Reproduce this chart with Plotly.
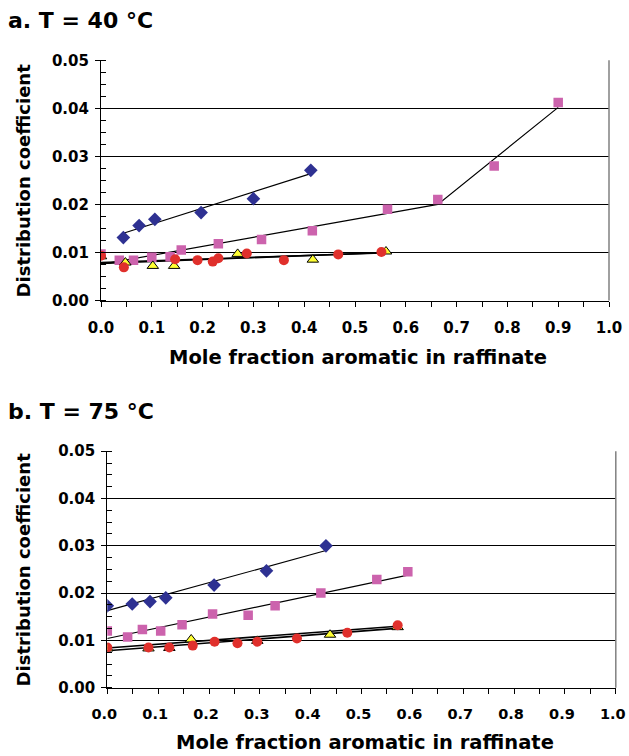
import plotly.graph_objects as go

W, H = 629, 756

# ---------------- data: panel a (T = 40 °C) ----------------
blue_a_x = [0.044, 0.075, 0.106, 0.197, 0.300, 0.413]
blue_a_y = [0.0131, 0.0156, 0.0169, 0.0183, 0.0212, 0.0271]
blue_a_fit_x = [0.044, 0.413]
blue_a_fit_y = [0.0140, 0.0264]

pink_a_x = [0.0, 0.036, 0.064, 0.100, 0.136, 0.158, 0.231, 0.316, 0.416, 0.564, 0.663, 0.774, 0.900]
pink_a_y = [0.0097, 0.0084, 0.0084, 0.0090, 0.0091, 0.0105, 0.0118, 0.0127, 0.0145, 0.0190, 0.0210, 0.0280, 0.0412]
pink_a_fit_x = [0.0, 0.663, 0.900]
pink_a_fit_y = [0.0075, 0.0200, 0.0402]

red_a_x = [0.0, 0.045, 0.146, 0.190, 0.220, 0.231, 0.287, 0.360, 0.467, 0.552]
red_a_y = [0.0093, 0.0069, 0.0086, 0.0084, 0.0081, 0.0088, 0.0098, 0.0084, 0.0096, 0.0101]
red_a_fit_x = [0.0, 0.552]
red_a_fit_y = [0.0079, 0.0099]

yellow_a_x = [0.0, 0.048, 0.102, 0.144, 0.269, 0.417, 0.561]
yellow_a_y = [0.0092, 0.0079, 0.0072, 0.0072, 0.0097, 0.0085, 0.0102]
yellow_a_fit_x = [0.0, 0.561]
yellow_a_fit_y = [0.0077, 0.0100]

# ---------------- data: panel b (T = 75 °C) ----------------
blue_b_x = [0.0, 0.049, 0.084, 0.115, 0.210, 0.313, 0.430]
blue_b_y = [0.0173, 0.0177, 0.0182, 0.0190, 0.0217, 0.0247, 0.0300]
blue_b_fit_x = [0.0, 0.430]
blue_b_fit_y = [0.0163, 0.0290]

pink_b_x = [0.0, 0.040, 0.069, 0.105, 0.147, 0.207, 0.277, 0.330, 0.420, 0.530, 0.591]
pink_b_y = [0.0120, 0.0107, 0.0123, 0.0120, 0.0133, 0.0156, 0.0153, 0.0173, 0.0200, 0.0229, 0.0245]
pink_b_fit_x = [0.0, 0.591]
pink_b_fit_y = [0.0104, 0.0238]

red_b_x = [0.0, 0.081, 0.122, 0.168, 0.211, 0.256, 0.295, 0.373, 0.472, 0.571]
red_b_y = [0.0085, 0.0085, 0.0085, 0.0089, 0.0097, 0.0094, 0.0097, 0.0104, 0.0116, 0.0132]
red_b_fit_x = [0.0, 0.571]
red_b_fit_y = [0.0084, 0.0130]

yellow_b_x = [0.0, 0.081, 0.122, 0.165, 0.295, 0.438, 0.571]
yellow_b_y = [0.0083, 0.0083, 0.0084, 0.0102, 0.0099, 0.0112, 0.0128]
yellow_b_fit_x = [0.0, 0.575]
yellow_b_fit_y = [0.0078, 0.0126]

x_ticks = [0.0, 0.1, 0.2, 0.3, 0.4, 0.5, 0.6, 0.7, 0.8, 0.9, 1.0]
y_ticks = [0.00, 0.01, 0.02, 0.03, 0.04, 0.05]

panel_titles = ["a. T = 40 °C", "b. T = 75 °C"]
x_title = "Mole fraction aromatic in raffinate"
y_title = "Distribution coefficient"

# ---------------- styling ----------------
FONT = "DejaVu Sans, Liberation Sans, Arial"
BLUE = "#2E3192"
PINK = "#CC63AD"
RED = "#E0302C"
YELLOW = "#FFFF33"

fig = go.Figure()

def add_panel(sfx, bx, by, bfx, bfy, px, py, pfx, pfy, rx, ry, rfx, rfy, yx, yy, yfx, yfy):
    xa, ya = "x" + sfx, "y" + sfx
    # fit lines
    for fx, fy, w in [(bfx, bfy, 1.2), (pfx, pfy, 1.2), (yfx, yfy, 1.6), (rfx, rfy, 1.6)]:
        fig.add_trace(go.Scatter(x=fx, y=fy, mode="lines", line=dict(color="black", width=w),
                                 xaxis=xa, yaxis=ya, showlegend=False, hoverinfo="skip"))
    fig.add_trace(go.Scatter(x=bx, y=by, mode="markers", xaxis=xa, yaxis=ya, showlegend=False,
                             marker=dict(symbol="diamond", size=10.5, color=BLUE, line=dict(width=0))))
    fig.add_trace(go.Scatter(x=px, y=py, mode="markers", xaxis=xa, yaxis=ya, showlegend=False,
                             marker=dict(symbol="square", size=9.5, color=PINK, line=dict(width=0))))
    fig.add_trace(go.Scatter(x=yx, y=yy, mode="markers", xaxis=xa, yaxis=ya, showlegend=False,
                             marker=dict(symbol="triangle-up", size=10, color=YELLOW,
                                         line=dict(width=1, color="black"))))
    fig.add_trace(go.Scatter(x=rx, y=ry, mode="markers", xaxis=xa, yaxis=ya, showlegend=False,
                             marker=dict(symbol="circle", size=10, color=RED, line=dict(width=0))))

add_panel("", blue_a_x, blue_a_y, blue_a_fit_x, blue_a_fit_y, pink_a_x, pink_a_y, pink_a_fit_x, pink_a_fit_y,
          red_a_x, red_a_y, red_a_fit_x, red_a_fit_y, yellow_a_x, yellow_a_y, yellow_a_fit_x, yellow_a_fit_y)
add_panel("2", blue_b_x, blue_b_y, blue_b_fit_x, blue_b_fit_y, pink_b_x, pink_b_y, pink_b_fit_x, pink_b_fit_y,
          red_b_x, red_b_y, red_b_fit_x, red_b_fit_y, yellow_b_x, yellow_b_y, yellow_b_fit_x, yellow_b_fit_y)

# pixel boxes of the two plot areas (left, right, top, bottom) and x-title offsets
boxes = [(101, 609, 60.3, 300.5), (107.3, 615.8, 451.2, 687.7)]
xtitle_off = [57, 55]
xlabel_shift = [0, -3]
xlabel_size = [15, 14.5]

def xdom(l, r):
    return [l / W, r / W]

def ydom(t, b):
    return [1 - b / H, 1 - t / H]

tick_font = dict(family=FONT, size=15, color="black", weight="bold")

for i, (l, r, t, b) in enumerate(boxes):
    sfx = "" if i == 0 else str(i + 1)
    fig.layout["xaxis" + sfx] = dict(
        domain=xdom(l, r), range=[0, 1], anchor="y" + sfx, tickvals=x_ticks, tickformat=".1f",
        showgrid=False, zeroline=False, showline=True, linecolor="black", linewidth=1.2,
        ticks="outside", ticklen=5, tickcolor="black", tickwidth=1,
        minor=dict(dtick=0.05, ticks="outside", ticklen=5, tickcolor="black", tickwidth=1, showgrid=False),
        tickfont=dict(family=FONT, size=xlabel_size[i], color="black", weight="bold"),
        ticklabelstandoff=8, ticklabelshift=xlabel_shift[i], ticklabeloverflow="allow",
        automargin=False, fixedrange=True)
    fig.layout["yaxis" + sfx] = dict(
        domain=ydom(t, b), range=[0, 0.05], anchor="x" + sfx, tickvals=y_ticks, tickformat=".2f",
        showgrid=True, gridcolor="black", gridwidth=1, zeroline=False,
        showline=True, linecolor="black", linewidth=1.2,
        ticks="outside", ticklen=5, tickcolor="black", tickwidth=1,
        minor=dict(dtick=0.0025, ticks="inside", ticklen=5, tickcolor="black", tickwidth=1, showgrid=False),
        tickfont=tick_font, ticklabelstandoff=3, ticklabeloverflow="allow",
        automargin=False, fixedrange=True)
    # right border
    fig.add_shape(type="line", xref="x" + sfx + " domain", yref="y" + sfx + " domain",
                  x0=1, x1=1, y0=0, y1=1, line=dict(color="#808080", width=1.5))
    # panel title
    fig.add_annotation(text="<b>" + panel_titles[i] + "</b>", xref="paper", yref="paper",
                       x=6 / W, y=1 - (t - 40) / H, xanchor="left", yanchor="middle", showarrow=False,
                       font=dict(family=FONT, size=22, color="black"))
    # y title
    fig.add_annotation(text="<b>" + y_title + "</b>", xref="paper", yref="paper",
                       x=23 / W, y=1 - ((t + b) / 2) / H, xanchor="center", yanchor="middle",
                       textangle=-90, showarrow=False, font=dict(family=FONT, size=18, color="black"))
    # x title
    fig.add_annotation(text="<b>" + x_title + "</b>", xref="paper", yref="paper",
                       x=((l + r) / 2 + 3) / W, y=1 - (b + xtitle_off[i]) / H, xanchor="center",
                       yanchor="middle", showarrow=False, font=dict(family=FONT, size=19.5, color="black"))

fig.update_layout(width=W, height=H, margin=dict(l=0, r=0, t=0, b=0),
                  paper_bgcolor="white", plot_bgcolor="white", showlegend=False)

fig.write_html("out.html")
